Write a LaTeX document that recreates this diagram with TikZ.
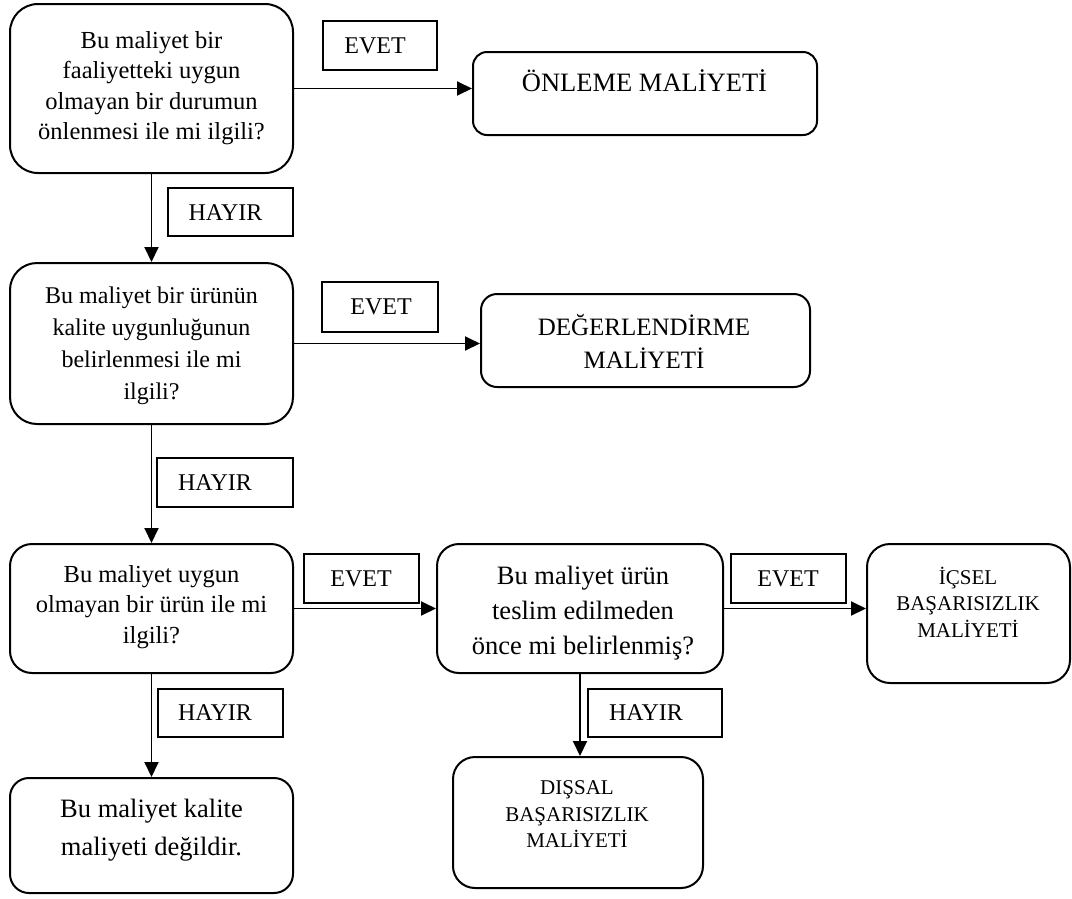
\documentclass[tikz,border=0pt]{standalone}
\usepackage{fontspec}
\setmainfont{Liberation Serif}
\usetikzlibrary{arrows.meta}
\tikzset{
  rbox/.style={draw, line width=2pt, rounded corners=#1, inner sep=0pt},
  lbl/.style={draw, line width=1.6pt, inner sep=0pt},
  txt/.style={align=center, inner sep=0pt},
  arr/.style={line width=1.9pt, -{Triangle[length=15pt,width=14pt]}},
  fa/.style={font=\fontsize{24.5}{30.5}\selectfont},
  fb/.style={font=\fontsize{26.5}{36}\selectfont},
  fsm/.style={font=\fontsize{21}{26.5}\selectfont},
  flab/.style={font=\fontsize{24}{28}\selectfont},
}
\begin{document}
\begin{tikzpicture}[x=1pt,y=-1pt]
\useasboundingbox (0,0) rectangle (1072,898);
% boxes
\node[rbox=28pt, minimum width=283pt, minimum height=169pt] (q1) at (151.5,88.5) {};
\node[rbox=14pt, minimum width=344pt, minimum height=83pt] (on) at (645,93.5) {};
\node[rbox=27pt, minimum width=283pt, minimum height=161pt] (q2) at (151.5,343.5) {};
\node[rbox=16pt, minimum width=329pt, minimum height=93pt] (deg) at (645.5,340.5) {};
\node[rbox=22pt, minimum width=283pt, minimum height=129pt] (q3) at (151.5,608.5) {};
\node[rbox=22pt, minimum width=286pt, minimum height=129pt] (q5) at (580,608.5) {};
\node[rbox=23pt, minimum width=203pt, minimum height=139pt] (ic) at (968.5,613.5) {};
\node[rbox=19pt, minimum width=283pt, minimum height=115pt] (q4) at (151.5,835.5) {};
\node[rbox=22pt, minimum width=250pt, minimum height=131pt] (dis) at (578,822.5) {};
% box texts
\node[txt, font=\fontsize{24.5}{30.3}\selectfont] (q1t) at (151.5,88) {Bu maliyet bir\\faaliyetteki uygun\\olmayan bir durumun\\önlenmesi ile mi ilgili?};
\node[txt, fb] (ont) at (644.5,81) {ÖNLEME MALİYETİ};
\node[txt, font=\fontsize{24}{32}\selectfont] (q2t) at (151.5,346) {Bu maliyet bir ürünün\\kalite uygunluğunun\\belirlenmesi ile mi\\ilgili?};
\node[txt, font=\fontsize{25}{33}\selectfont] (degt) at (644,341.5) {DEĞERLENDİRME\\MALİYETİ};
\node[txt, fa] (q3t) at (151.5,607) {Bu maliyet uygun\\olmayan bir ürün ile mi\\ilgili?};
\node[txt, font=\fontsize{26.5}{35}\selectfont] (q5t) at (583,613) {Bu maliyet ürün\\teslim edilmeden\\önce mi belirlenmiş?};
\node[txt, fsm] (ict) at (968,602) {İÇSEL\\BAŞARISIZLIK\\MALİYETİ};
\node[txt, font=\fontsize{26.5}{38}\selectfont] (q4t) at (151.5,830) {Bu maliyet kalite\\maliyeti değildir.};
\node[txt, fsm] (dist) at (577,814.5) {DIŞSAL\\BAŞARISIZLIK\\MALİYETİ};
% label boxes
\node[lbl, minimum width=114pt, minimum height=49pt] (e1) at (380,45.5) {};
\node[lbl, minimum width=116pt, minimum height=50pt] (e2) at (380,307) {};
\node[lbl, minimum width=115pt, minimum height=49pt] (e3) at (361.5,578.5) {};
\node[lbl, minimum width=115pt, minimum height=49pt] (e4) at (788.5,578.5) {};
\node[lbl, minimum width=125pt, minimum height=48pt] (h1) at (230.5,212) {};
\node[lbl, minimum width=136pt, minimum height=49pt] (h2) at (225,482.5) {};
\node[lbl, minimum width=125pt, minimum height=48pt] (h3) at (220.5,713) {};
\node[lbl, minimum width=134pt, minimum height=48pt] (h4) at (655,713) {};
% label texts
\node[txt, flab] (e1t) at (375,45.5) {EVET};
\node[txt, flab] (e2t) at (381,307) {EVET};
\node[txt, flab] (e3t) at (361,578.5) {EVET};
\node[txt, flab] (e4t) at (788,578.5) {EVET};
\node[txt, flab] (h1t) at (225.5,213) {HAYIR};
\node[txt, flab] (h2t) at (215,483) {HAYIR};
\node[txt, flab] (h3t) at (215,713) {HAYIR};
\node[txt, flab] (h4t) at (646,713) {HAYIR};
% connectors
\draw[arr] (q1.east) -- (on.west |- q1.east);
\draw[arr] (q1.south) -- (q2.north);
\draw[arr] (q2.east) -- (deg.west |- q2.east);
\draw[arr] (q2.south) -- (q3.north);
\draw[arr] (q3.east) -- (q5.west |- q3.east);
\draw[arr] (q3.south) -- (q4.north);
\draw[arr] (q5.east) -- (ic.west |- q5.east);
\draw[arr] (q5.south) -- (q5.south |- dis.north);
\end{tikzpicture}
\end{document}
